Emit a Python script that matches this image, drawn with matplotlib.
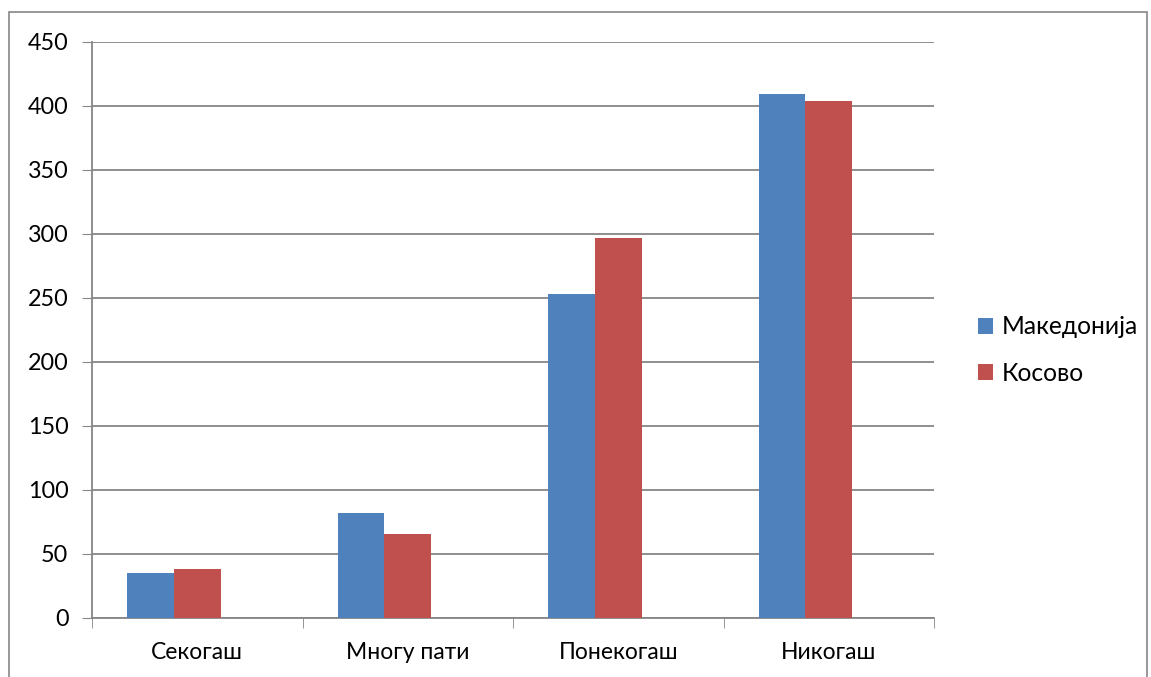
import numpy as np
import matplotlib.pyplot as plt
from matplotlib.patches import Rectangle

categories = ['Секогаш', 'Многу пати', 'Понекогаш', 'Никогаш']
makedonija = [35, 82, 253, 409]
kosovo = [38, 66, 297, 404]
y_ticks = [0, 50, 100, 150, 200, 250, 300, 350, 400, 450]

plt.rcParams['font.family'] = ['Lato', 'DejaVu Sans']
grid_color = '#868686'

fig = plt.figure(figsize=(11.51, 6.77), dpi=100)
ax = fig.add_axes([92/1151, 1 - 618/677, (934 - 92)/1151, (618 - 42)/677])

x = np.arange(len(categories))
w = 0.221
# the original chart leaves room for a third (empty) series, so the pair sits left of centre
ax.bar(x - w, makedonija, w, color='#4F81BD', label='Македонија', zorder=3)
ax.bar(x, kosovo, w, color='#C0504D', label='Косово', zorder=3)

ax.set_xlim(-0.5, len(categories) - 0.5)
ax.set_ylim(0, 450)
ax.set_yticks(y_ticks)
ax.set_xticks(x)
ax.set_xticklabels(categories)
ax.set_xticks(np.arange(-0.5, len(categories)), minor=True)
ax.tick_params(axis='x', which='major', length=0, pad=17, labelsize=16.5)
ax.tick_params(axis='x', which='minor', length=7, color=grid_color, direction='out')
ax.tick_params(axis='y', length=7, color=grid_color, labelsize=16.8, pad=10)
ax.yaxis.grid(True, color=grid_color, linewidth=1.3, zorder=0)

for s in ['top', 'right']:
    ax.spines[s].set_visible(False)
for s in ['left', 'bottom']:
    ax.spines[s].set_color(grid_color)
    ax.spines[s].set_linewidth(1.3)

ax.legend(loc='center left', bbox_to_anchor=(1.026, 0.465), frameon=False,
          fontsize=17.7, handlelength=0.6, handleheight=0.6, handletextpad=0.35,
          labelspacing=0.95)

fig.patches.append(Rectangle((9/1151, -0.1), (1147 - 9)/1151, 1.1 - 12/677,
                             transform=fig.transFigure, fill=False,
                             edgecolor=grid_color, linewidth=1.2))

fig.savefig('out.png', dpi=100)
